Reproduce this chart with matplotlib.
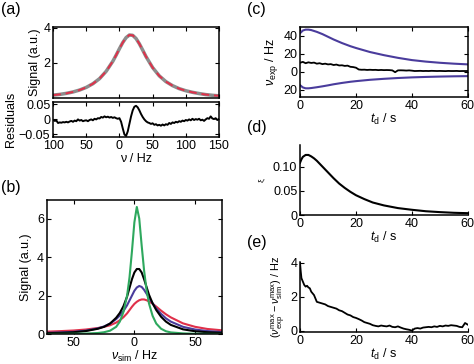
import matplotlib
matplotlib.use('Agg')
import matplotlib.pyplot as plt
import numpy as np

plt.rcParams['font.family'] = ['Liberation Sans', 'DejaVu Sans']
plt.rcParams['mathtext.fontset'] = 'custom'
plt.rcParams['mathtext.rm'] = 'Liberation Sans'
plt.rcParams['mathtext.it'] = 'Liberation Sans:italic'
plt.rcParams['font.size'] = 9
plt.rcParams['axes.linewidth'] = 1.1

GREY = '#8c8c8c'
RED = '#e0304a'
PURPLE = '#4a3c9c'
GREEN = '#2ea85e'

# (a) measured spectrum and fit
nu_a = [-100, -90, -80, -70, -60, -50, -40, -30, -20, -10, -5, 0, 5, 10, 15, 20,
        25, 30, 35, 40, 50, 60, 70, 80, 90, 100, 110, 120, 130, 140, 150]
signal_a = [0.16, 0.20, 0.26, 0.34, 0.45, 0.60, 0.81, 1.10, 1.52, 2.09, 2.44, 2.81,
            3.16, 3.44, 3.59, 3.57, 3.39, 3.09, 2.73, 2.36, 1.73, 1.26, 0.93, 0.70,
            0.53, 0.41, 0.32, 0.25, 0.19, 0.15, 0.12]
nu_res = np.arange(-100, 152.5, 2.5)
residuals = [-0.002, -0.005, -0.004, -0.012, -0.010, -0.011, -0.009, -0.010, -0.008, -0.010,
             -0.007, -0.005, -0.008, -0.004, -0.006, 0.000, -0.004, -0.002, -0.006, -0.004,
             -0.003, -0.006, -0.002, 0.000, -0.003, 0.002, 0.000, 0.004, 0.003, 0.008,
             0.006, 0.010, 0.007, 0.009, 0.006, 0.008, 0.005, 0.007, 0.004, 0.002,
             0.004, -0.008, -0.030, -0.050, -0.055, -0.040, -0.015, 0.010, 0.030, 0.042,
             0.045, 0.040, 0.030, 0.018, 0.008, 0.000, -0.006, -0.010, -0.012, -0.015,
             -0.013, -0.018, -0.016, -0.020, -0.018, -0.021, -0.017, -0.020, -0.016, -0.018,
             -0.012, -0.015, -0.010, -0.012, -0.008, -0.010, -0.006, -0.008, -0.004, -0.006,
             -0.002, -0.004, 0.000, -0.003, 0.002, -0.002, 0.001, -0.001, 0.002, -0.003,
             -0.001, -0.005, 0.000, 0.004, 0.002, 0.010, 0.003, 0.001, 0.004, -0.002,
             0.001]
xticks_a = [-100, -50, 0, 50, 100, 150]
xticklabels_a = ['100', '50', '0', '50', '100', '150']

# (b) simulated spectra
nu_b = [-72, -60, -50, -40, -30, -25, -20, -15, -12, -9, -6, -4, -2, 0, 2, 4, 6, 8,
        10, 12, 15, 18, 22, 26, 30, 40, 50, 60, 72]
sig_green = [0.01, 0.015, 0.02, 0.03, 0.06, 0.10, 0.18, 0.38, 0.65, 1.15, 2.0, 2.95,
             4.3, 5.8, 6.6, 6.0, 4.6, 3.3, 2.3, 1.6, 0.95, 0.55, 0.28, 0.15, 0.09,
             0.04, 0.02, 0.015, 0.01]
sig_black = [0.05, 0.07, 0.10, 0.16, 0.28, 0.38, 0.55, 0.85, 1.1, 1.45, 1.95, 2.4,
             2.85, 3.2, 3.38, 3.38, 3.2, 2.85, 2.45, 2.05, 1.6, 1.25, 0.9, 0.65, 0.48,
             0.25, 0.15, 0.10, 0.07]
sig_purple = [0.07, 0.09, 0.12, 0.18, 0.30, 0.40, 0.55, 0.78, 0.97, 1.2, 1.5, 1.75,
              2.0, 2.25, 2.42, 2.5, 2.45, 2.3, 2.1, 1.9, 1.6, 1.33, 1.05, 0.82, 0.65,
              0.38, 0.24, 0.16, 0.11]
sig_red = [0.13, 0.16, 0.19, 0.24, 0.32, 0.38, 0.46, 0.60, 0.72, 0.88, 1.08, 1.25,
           1.42, 1.57, 1.68, 1.76, 1.80, 1.80, 1.76, 1.70, 1.58, 1.43, 1.22, 1.03,
           0.87, 0.56, 0.38, 0.27, 0.20]
xticks_b = [-50, 0, 50]
xticklabels_b = ['50', '0', '50']

# (c) peak positions vs time
t_c = [0, 1, 2, 3, 4, 6, 8, 10, 12, 15, 18, 20, 25, 30, 35, 40, 45, 50, 55, 60]
nu_upper = [43, 46, 47, 47, 46.5, 44.5, 42, 39, 36, 32, 28.5, 26.5, 22, 18.5, 15.5,
            13, 11.3, 10, 9, 8.2]
nu_lower = [-15, -17.5, -18.5, -18.5, -18.2, -17.3, -16.3, -15.2, -14, -12.5, -11.2,
            -10.5, -9, -7.9, -7, -6.3, -5.8, -5.4, -5.1, -4.9]
t_black = np.arange(0, 61, 1)
nu_black = [10, 11, 9.5, 10.5, 9.8, 10.2, 9, 9.5, 8.5, 9, 8.2, 8.5, 7.5, 8, 7, 7.2,
            6.5, 6.8, 5.5, 5.2, 4.5, 2.5, 2.2, 2.3, 2.0, 2.2, 2.0, 2.1, 1.8, 2.0, 1.8,
            1.9, 1.8, 1.5, -0.5, 1.5, 1.6, 1.5, 1.3, 1.5, 1.2, 0.8, 0.9, 1.0, 0.8, 0.9,
            0.8, 1.0, 0.9, 0.8, 0.9, 0.8, 0.7, 0.9, 0.8, 0.8, 0.9, 0.7, 0.8, 0.8, 0.8]
yticks_c = [-20, 0, 20, 40]
yticklabels_c = ['20', '0', '20', '40']

# (d) xi vs time
t_d = [0, 0.5, 1, 2, 3, 4, 5, 6, 8, 10, 12, 14, 16, 18, 20, 23, 26, 30, 35, 40, 45,
       50, 55, 60]
xi = [0.108, 0.115, 0.120, 0.124, 0.124, 0.121, 0.117, 0.112, 0.100, 0.088, 0.076,
      0.065, 0.056, 0.048, 0.041, 0.033, 0.026, 0.020, 0.0145, 0.011, 0.008, 0.0062,
      0.0048, 0.004]

# (e) difference of maxima vs time
t_e = [0, 0.25, 0.5, 1, 1.5, 2, 2.5, 3, 3.5, 4] + list(range(5, 61))
dnu = [4.0, 3.5, 3.1, 2.9, 2.7, 2.6, 2.65, 2.55, 2.5, 2.3,
       2.1, 1.7, 1.65, 1.6, 1.55, 1.45, 1.4, 1.35, 1.3, 1.2, 1.15, 1.05, 0.95, 0.9,
       0.8, 0.75, 0.68, 0.6, 0.5, 0.45, 0.4, 0.32, 0.28, 0.25, 0.3, 0.27, 0.25, 0.3,
       0.22, 0.2, 0.25, 0.18, 0.12, 0.08, 0.05, 0.0, 0.12, 0.15, 0.12, 0.18, 0.2,
       0.22, 0.2, 0.25, 0.22, 0.28, 0.25, 0.3, 0.28, 0.32, 0.3, 0.28, 0.22, 0.2,
       0.45, 0.35]


def style(ax, box=True):
    ax.tick_params(direction='in', length=3, width=0.8, top=box, right=box, pad=2)
    if not box:
        ax.spines['top'].set_visible(False)
        ax.spines['right'].set_visible(False)


fig = plt.figure(figsize=(4.74, 3.64), dpi=100)

# panel (a)
ax_a = fig.add_axes([0.112, 0.731, 0.350, 0.195])
ax_a.plot(nu_a, signal_a, color=GREY, lw=2.5)
ax_a.plot(nu_a, signal_a, color=RED, lw=1.4, ls=(0, (4, 2.5)))
ax_a.set_xlim(-100, 150)
ax_a.set_ylim(0, 4.05)
ax_a.set_yticks([2, 4])
ax_a.set_xticks(xticks_a)
ax_a.set_xticklabels([])
ax_a.set_ylabel('Signal (a.u.)', labelpad=2)
style(ax_a)

ax_r = fig.add_axes([0.112, 0.624, 0.350, 0.096])
ax_r.plot(nu_res, residuals, color='black', lw=1.4)
ax_r.set_xlim(-100, 150)
ax_r.set_ylim(-0.058, 0.058)
ax_r.set_yticks([-0.05, 0, 0.05])
ax_r.set_yticklabels(['\u22120.05', '0', '0.05'])
ax_r.set_xticks(xticks_a)
ax_r.set_xticklabels(xticklabels_a)
ax_r.set_xlabel('\u03bd / Hz', labelpad=1)
ax_r.set_ylabel('Residuals', labelpad=1)
style(ax_r)

# panel (b)
ax_b = fig.add_axes([0.099, 0.082, 0.369, 0.368])
ax_b.plot(nu_b, sig_red, color=RED, lw=1.5)
ax_b.plot(nu_b, sig_purple, color=PURPLE, lw=1.5)
ax_b.plot(nu_b, sig_black, color='black', lw=1.5)
ax_b.plot(nu_b, sig_green, color=GREEN, lw=1.5)
ax_b.set_xlim(-72, 72)
ax_b.set_ylim(0, 6.95)
ax_b.set_yticks([0, 2, 4, 6])
ax_b.set_xticks(xticks_b)
ax_b.set_xticklabels(xticklabels_b)
ax_b.set_xlabel(r'$\nu_{\rm sim}$ / Hz', labelpad=0)
ax_b.set_ylabel('Signal (a.u.)', labelpad=4)
style(ax_b)

# panel (c)
ax_c = fig.add_axes([0.633, 0.734, 0.354, 0.192])
ax_c.plot(t_c, nu_upper, color=PURPLE, lw=1.5)
ax_c.plot(t_c, nu_lower, color=PURPLE, lw=1.5)
ax_c.plot(t_black, nu_black, color='black', lw=1.3)
ax_c.set_xlim(0, 60)
ax_c.set_ylim(-28, 50)
ax_c.set_yticks(yticks_c)
ax_c.set_yticklabels(yticklabels_c)
ax_c.set_xticks([0, 20, 40, 60])
ax_c.set_xlabel(r'$t_{\rm d}$ / s', labelpad=0)
ax_c.set_ylabel(r'$\nu_{\rm exp}$ / Hz', labelpad=2)
style(ax_c)

# panel (d)
ax_d = fig.add_axes([0.633, 0.409, 0.354, 0.192])
ax_d.plot(t_d, xi, color='black', lw=1.5)
ax_d.set_xlim(0, 60)
ax_d.set_ylim(0, 0.144)
ax_d.set_yticks([0, 0.05, 0.10])
ax_d.set_yticklabels(['0', '0.05', '0.10'])
ax_d.set_xticks([0, 20, 40, 60])
ax_d.set_xlabel(r'$t_{\rm d}$ / s', labelpad=0)
ax_d.set_ylabel('\u03be', fontsize=6, labelpad=6)
style(ax_d, box=False)

# panel (e)
ax_e = fig.add_axes([0.633, 0.088, 0.354, 0.192])
ax_e.plot(t_e, dnu, color='black', lw=1.3)
ax_e.set_xlim(0, 60)
ax_e.set_ylim(-0.08, 4.05)
ax_e.set_yticks([0, 2, 4])
ax_e.set_xticks([0, 20, 40, 60])
ax_e.set_xlabel(r'$t_{\rm d}$ / s', labelpad=0)
ax_e.set_ylabel(r'$(\nu_{\rm exp}^{\rm max}-\nu_{\rm sim}^{\rm max})$ / Hz',
                fontsize=7.8, labelpad=2)
style(ax_e, box=False)

for lab, x, y in [('(a)', 0.002, 0.995), ('(b)', 0.002, 0.505),
                  ('(c)', 0.521, 0.995), ('(d)', 0.521, 0.67), ('(e)', 0.521, 0.355)]:
    fig.text(x, y, lab, fontsize=11.5, ha='left', va='top')

fig.savefig('out.png', dpi=100)
